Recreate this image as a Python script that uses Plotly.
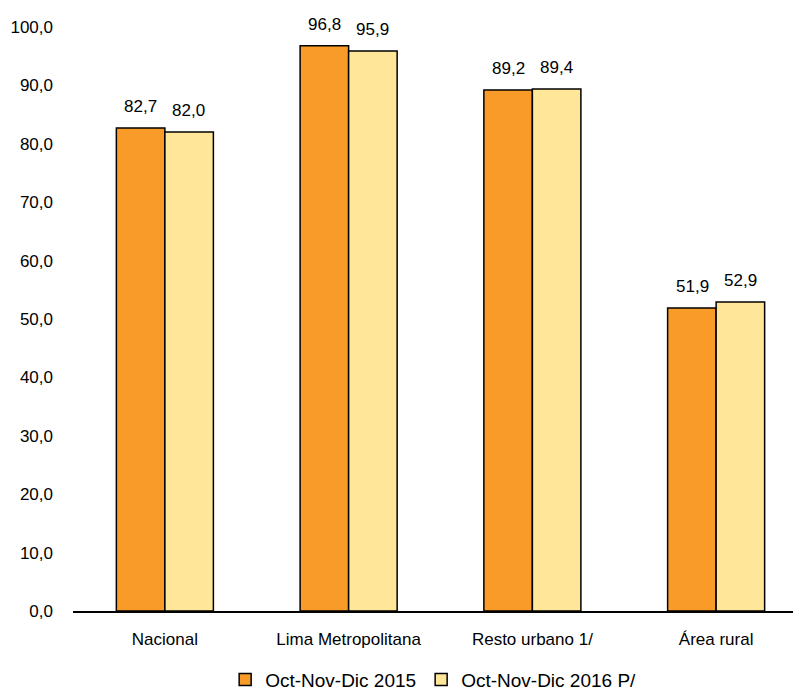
import plotly.graph_objects as go

categories = ["Nacional", "Lima Metropolitana", "Resto urbano 1/", "Área rural"]
series_2015 = [82.7, 96.8, 89.2, 51.9]
series_2016 = [82.0, 95.9, 89.4, 52.9]
names = ["Oct-Nov-Dic 2015", "Oct-Nov-Dic 2016 P/"]
colors = ["#F99B28", "#FFE699"]

FONT = "Liberation Sans, Arial, sans-serif"
FS = 17

fig = go.Figure()
for name, vals, col in zip(names, [series_2015, series_2016], colors):
    fig.add_trace(go.Bar(
        x=categories, y=vals, name=name,
        marker=dict(color=col, line=dict(color="black", width=1.5)),
        cliponaxis=False,
    ))

# value labels above bars
for vals, shift in zip([series_2015, series_2016], [-24, 24]):
    for cat, v in zip(categories, vals):
        fig.add_annotation(
            x=cat, y=v, xref="x", yref="y", text=f"{v:.1f}".replace(".", ","),
            showarrow=False, xshift=shift, yshift=10, yanchor="bottom",
            font=dict(size=FS, color="black", family=FONT),
        )

fig.update_layout(
    width=801, height=695,
    barmode="group", bargap=0.472, bargroupgap=0,
    separators=", ",
    plot_bgcolor="white", paper_bgcolor="white",
    margin=dict(l=65, r=1, t=19, b=92, autoexpand=False),
    font=dict(family=FONT, size=FS, color="black"),
    legend=dict(orientation="h", x=0.49, xanchor="center", y=-0.085, yanchor="top",
                font=dict(size=19), itemwidth=30, traceorder="normal"),
    xaxis=dict(showline=True, linecolor="black", linewidth=1.5, ticks="",
               range=[-0.5, 3.5], automargin=False,
               tickfont=dict(size=FS), ticklabelstandoff=12),
    yaxis=dict(range=[0, 100], dtick=10, tickformat=".1f", showgrid=False,
               zeroline=False, showline=False, ticks="", tickfont=dict(size=FS),
               ticklabelstandoff=19, automargin=False),
)

fig.write_html("out.html")
